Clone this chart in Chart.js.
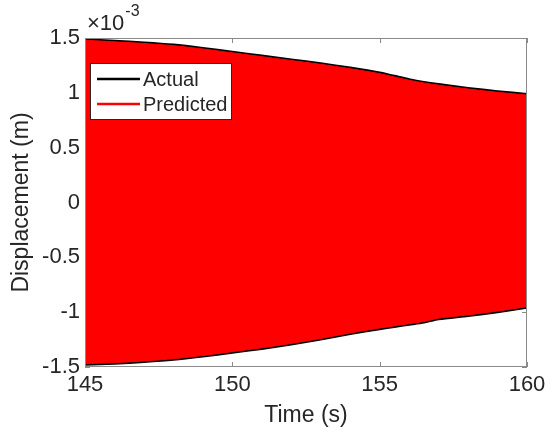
<!DOCTYPE html>
<html>
<head>
<meta charset="utf-8">
<script src="https://cdn.jsdelivr.net/npm/chart.js@4/dist/chart.umd.min.js"></script>
<style>
  html, body { margin: 0; padding: 0; background: #fff; }
  #wrap { width: 545px; height: 436px; }
</style>
</head>
<body>
<div id="wrap"><canvas id="dispChart" width="545" height="436"></canvas></div>
<script>
// envelope of the displacement response, values in units of 1e-3 m
const timeSec = [145, 146, 147, 148, 149, 150, 151, 152, 153, 154, 155, 155.5, 156, 156.5, 157, 158, 159, 160];
const actualUpper = [1.49, 1.475, 1.46, 1.44, 1.41, 1.375, 1.34, 1.305, 1.27, 1.23, 1.185, 1.155, 1.125, 1.10, 1.08, 1.045, 1.015, 0.99];
const actualLower = [-1.48, -1.47, -1.455, -1.435, -1.405, -1.37, -1.335, -1.295, -1.25, -1.20, -1.155, -1.135, -1.115, -1.095, -1.065, -1.035, -1.0, -0.96];
const predictedUpper = [1.48, 1.465, 1.45, 1.43, 1.40, 1.365, 1.33, 1.295, 1.26, 1.22, 1.175, 1.145, 1.115, 1.09, 1.07, 1.035, 1.005, 0.98];
const predictedLower = [-1.47, -1.46, -1.445, -1.425, -1.395, -1.36, -1.325, -1.285, -1.24, -1.19, -1.145, -1.125, -1.105, -1.085, -1.055, -1.025, -0.99, -0.95];

const xTicks = [145, 150, 155, 160];
const yTicks = [-1.5, -1, -0.5, 0, 0.5, 1, 1.5];
const legendItems = [
    { label: 'Actual', color: '#000000' },
    { label: 'Predicted', color: '#ff0000' }
];

const FONT = '"Liberation Sans", Arial, Helvetica, sans-serif';
const TEXT = '#262626';
const AXIS_GRAY = '#8a8a8a';

const toPoints = (ys) => timeSec.map((t, i) => ({ x: t, y: ys[i] }));

// inward ticks on all four sides, drawn under the data like matlab's default layer
const axisTicks = {
    id: 'axisTicks',
    beforeDatasetsDraw(chart) {
        const { ctx, chartArea: a, scales: { x, y } } = chart;
        const len = 5;
        ctx.save();
        ctx.strokeStyle = AXIS_GRAY;
        ctx.lineWidth = 1;
        ctx.beginPath();
        xTicks.forEach((t) => {
            const px = Math.round(x.getPixelForValue(t)) + 0.5;
            ctx.moveTo(px, a.bottom); ctx.lineTo(px, a.bottom - len);
            ctx.moveTo(px, a.top); ctx.lineTo(px, a.top + len);
        });
        yTicks.forEach((v) => {
            const py = Math.round(y.getPixelForValue(v)) + 0.5;
            ctx.moveTo(a.left, py); ctx.lineTo(a.left + len, py);
            ctx.moveTo(a.right, py); ctx.lineTo(a.right - len, py);
        });
        ctx.stroke();
        ctx.restore();
    }
};

// axes box, exponent label and the legend box
const overlay = {
    id: 'overlay',
    afterDraw(chart) {
        const { ctx, chartArea: a } = chart;
        ctx.save();
        ctx.strokeStyle = AXIS_GRAY;
        ctx.lineWidth = 1;
        ctx.strokeRect(Math.round(a.left) + 0.5, Math.round(a.top) + 0.5,
            Math.round(a.right - a.left) - 1, Math.round(a.bottom - a.top) - 1);

        ctx.fillStyle = TEXT;
        ctx.textBaseline = 'alphabetic';
        ctx.textAlign = 'left';
        ctx.font = '22px ' + FONT;
        ctx.fillText('\u00d710', a.left + 2, a.top - 8);
        const w = ctx.measureText('\u00d710').width;
        ctx.font = '16px ' + FONT;
        ctx.fillText('-3', a.left + 3 + w, a.top - 22);

        // legend
        const bx = a.left + 5, by = a.top + 25, bw = 142, bh = 57;
        ctx.fillStyle = '#ffffff';
        ctx.fillRect(bx, by, bw, bh);
        ctx.strokeStyle = '#262626';
        ctx.lineWidth = 1;
        ctx.strokeRect(bx + 0.5, by + 0.5, bw - 1, bh - 1);
        ctx.font = '20px ' + FONT;
        ctx.textBaseline = 'middle';
        legendItems.forEach((item, i) => {
            const ly = by + 16 + i * 25;
            ctx.strokeStyle = item.color;
            ctx.lineWidth = 2.5;
            ctx.beginPath();
            ctx.moveTo(bx + 7, ly);
            ctx.lineTo(bx + 50, ly);
            ctx.stroke();
            ctx.fillStyle = TEXT;
            ctx.fillText(item.label, bx + 53, ly + 1);
        });
        ctx.restore();
    }
};

new Chart(document.getElementById('dispChart').getContext('2d'), {
    type: 'line',
    data: {
        datasets: [
            { label: 'Predicted', data: toPoints(predictedUpper), borderColor: '#ff0000', borderWidth: 1, backgroundColor: '#ff0000', fill: '+1' },
            { label: 'Predicted lower', data: toPoints(predictedLower), borderColor: '#ff0000', borderWidth: 1, fill: false },
            { label: 'Actual', data: toPoints(actualUpper), borderColor: '#000000', borderWidth: 2, backgroundColor: '#000000', fill: '+1' },
            { label: 'Actual lower', data: toPoints(actualLower), borderColor: '#000000', borderWidth: 2, fill: false }
        ]
    },
    options: {
        responsive: false,
        animation: false,
        events: [],
        elements: { point: { radius: 0 }, line: { tension: 0.25 } },
        layout: { padding: { top: 38, right: 18, bottom: 7, left: 8 } },
        plugins: { legend: { display: false }, tooltip: { enabled: false } },
        scales: {
            x: {
                type: 'linear',
                min: 145,
                max: 160,
                grid: { display: false, drawTicks: false },
                border: { display: false },
                afterBuildTicks: (s) => { s.ticks = xTicks.map((v) => ({ value: v })); },
                afterFit: (s) => { s.height = 62; s.paddingLeft = 0; s.paddingRight = 0; },
                ticks: { color: TEXT, font: { family: FONT, size: 22 }, padding: 5, maxRotation: 0, autoSkip: false },
                title: { display: true, text: 'Time (s)', color: TEXT, font: { family: FONT, size: 23 }, padding: { top: 0, bottom: 0 } }
            },
            y: {
                min: -1.5,
                max: 1.5,
                grid: { display: false, drawTicks: false },
                border: { display: false },
                afterBuildTicks: (s) => { s.ticks = yTicks.map((v) => ({ value: v })); },
                afterFit: (s) => { s.width = 77; },
                ticks: { color: TEXT, font: { family: FONT, size: 22 }, padding: 5, callback: (v) => String(v) },
                title: { display: true, text: 'Displacement (m)', color: TEXT, font: { family: FONT, size: 23 }, padding: { top: 0, bottom: 0 } }
            }
        }
    },
    plugins: [axisTicks, overlay]
});
</script>
</body>
</html>
